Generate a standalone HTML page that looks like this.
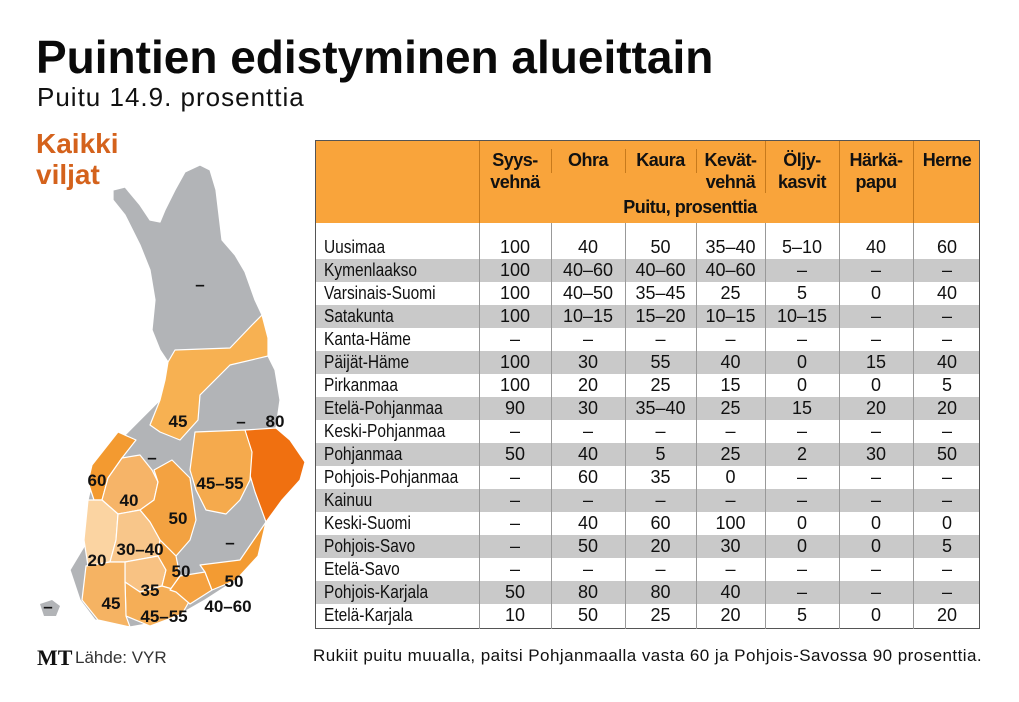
<!DOCTYPE html>
<html><head><meta charset="utf-8"><style>
body{margin:0;width:1019px;height:702px;background:#fff;position:relative;overflow:hidden;font-family:"Liberation Sans",sans-serif;color:#111}
.a{position:absolute;white-space:nowrap}
#t1{left:36px;top:30px;font:bold 46px "Liberation Sans",sans-serif;letter-spacing:0px;color:#0a0a0a}
#t2{left:37px;top:82px;font:26px "Liberation Sans",sans-serif;letter-spacing:1px}
#kv{left:36px;top:128px;font:bold 28px/31px "Liberation Sans",sans-serif;color:#d4621c}
#box{position:absolute;left:315px;top:140px;width:665px;height:489px;border:1px solid #555;box-sizing:border-box}
.hd{position:absolute;left:0;top:0;width:100%;height:82px;background:#f9a43b}
.row{position:absolute;left:0;width:100%;height:23px}
.g{background:#c9c9c9}
.c{position:absolute;text-align:center;font-size:18px;line-height:23px}
.n{position:absolute;left:8px;font-size:18px;line-height:23px;transform:scaleX(0.86);transform-origin:0 0;white-space:nowrap}
.h{position:absolute;text-align:center;font-weight:bold;font-size:18px;line-height:22px;letter-spacing:-0.5px}
.vl{position:absolute;width:1px;background:#999}
</style></head><body>
<div class="a" id="t1">Puintien edistyminen alueittain</div>
<div class="a" id="t2">Puitu 14.9. prosenttia</div>
<div class="a" id="kv">Kaikki<br>viljat</div>

<svg class="a" style="left:0;top:0" width="315" height="702">
<g stroke="#fff" stroke-width="1.2" stroke-linejoin="round">
<polygon fill="#b2b4b7" points="113,190 125,187 140,205 150,220 160,222 165,210 175,190 185,172 200,165 210,170 216,190 222,240 235,255 245,272 255,300 262,315 268,338 268,356 275,370 280,400 276,428 290,440 305,462 300,480 282,500 266,522 255,558 236,580 205,600 170,620 130,627 95,620 80,600 70,570 85,545 88,500 95,470 115,445 140,420 160,400 165,380 168,362 160,350 152,330 155,300 150,270 140,245 125,215 113,200"/>
<polygon fill="#f7b152" points="168,362 175,350 230,348 252,325 262,315 268,338 268,356 230,365 215,380 200,395 198,420 180,440 160,432 150,425 160,400 165,380"/>
<polygon fill="#f07010" points="245,430 276,428 290,440 305,462 300,480 282,500 266,522 255,492 246,462"/>
<polygon fill="#f39a30" points="92,465 118,432 136,440 122,458 108,478 102,500 94,500 88,482"/>
<polygon fill="#f6b468" points="102,500 108,478 122,458 140,455 152,470 158,482 154,500 140,510 118,514"/>
<polygon fill="#f3a241" points="154,470 172,460 190,478 196,520 190,540 176,556 160,540 150,522 140,510 154,500 158,482"/>
<polygon fill="#f5aa4d" points="195,432 245,430 252,452 250,480 240,500 226,514 206,510 196,490 190,470"/>
<polygon fill="#fbd4a2" points="88,500 102,500 118,514 116,540 110,562 88,566 84,540"/>
<polygon fill="#f8c68a" points="118,514 140,510 150,522 160,540 158,556 125,562 110,562 116,540"/>
<polygon fill="#f8c283" points="125,562 158,556 166,570 162,586 140,592 125,582"/>
<polygon fill="#f3a241" points="160,540 176,556 180,576 170,590 162,586 166,570 158,556"/>
<polygon fill="#f5ae57" points="125,582 140,592 162,586 176,590 190,600 182,614 150,626 126,616"/>
<polygon fill="#f5b363" points="86,566 110,562 125,562 125,582 126,616 130,627 98,620 82,600"/>
<polygon fill="#f5a13f" points="170,590 180,576 205,572 212,590 190,604 176,592"/>
<polygon fill="#f39b32" points="205,572 200,565 240,560 266,522 258,556 236,580 212,590"/>
</g>
<polygon fill="#b2b4b7" points="40,604 52,600 60,606 56,616 44,616"/>
<g font-family="Liberation Sans,sans-serif" font-weight="bold" font-size="17" fill="#111" text-anchor="middle">
<text x="200" y="290">–</text><text x="178" y="427">45</text><text x="241" y="427">–</text><text x="275" y="427">80</text>
<text x="152" y="463">–</text><text x="97" y="486">60</text><text x="129" y="506">40</text><text x="220" y="489">45–55</text>
<text x="178" y="524">50</text><text x="230" y="548">–</text><text x="97" y="566">20</text><text x="140" y="555">30–40</text>
<text x="181" y="577">50</text><text x="150" y="596">35</text><text x="234" y="587">50</text><text x="111" y="609">45</text>
<text x="164" y="622">45–55</text><text x="228" y="612">40–60</text><text x="48" y="612">–</text>
</g>
</svg>

<div class="a" style="left:37px;top:645px;font:bold 22px 'Liberation Serif',serif">MT</div>
<div class="a" style="left:75px;top:648px;font-size:17px;color:#333">Lähde: VYR</div>
<div class="a" style="left:313px;top:646px;font-size:17px;letter-spacing:0.45px">Rukiit puitu muualla, paitsi Pohjanmaalla vasta 60 ja Pohjois-Savossa 90 prosenttia.</div>

<div id="box">
<div class="hd"></div>
<div class="h" style="left:163px;width:72px;top:8px">Syys-<br>vehnä</div>
<div class="h" style="left:235px;width:74px;top:8px">Ohra</div>
<div class="h" style="left:309px;width:71px;top:8px">Kaura</div>
<div class="h" style="left:380px;width:69px;top:8px">Kevät-<br>vehnä</div>
<div class="h" style="left:449px;width:74px;top:8px">Öljy-<br>kasvit</div>
<div class="h" style="left:523px;width:74px;top:8px">Härkä-<br>papu</div>
<div class="h" style="left:597px;width:68px;top:8px">Herne</div>
<div class="h" style="left:235px;width:278px;top:55px">Puitu, prosenttia</div>
<div id="rows"></div>
</div>
<script>
var d=[["Uusimaa","100","40","50","35–40","5–10","40","60"],
["Kymenlaakso","100","40–60","40–60","40–60","–","–","–"],
["Varsinais-Suomi","100","40–50","35–45","25","5","0","40"],
["Satakunta","100","10–15","15–20","10–15","10–15","–","–"],
["Kanta-Häme","–","–","–","–","–","–","–"],
["Päijät-Häme","100","30","55","40","0","15","40"],
["Pirkanmaa","100","20","25","15","0","0","5"],
["Etelä-Pohjanmaa","90","30","35–40","25","15","20","20"],
["Keski-Pohjanmaa","–","–","–","–","–","–","–"],
["Pohjanmaa","50","40","5","25","2","30","50"],
["Pohjois-Pohjanmaa","–","60","35","0","–","–","–"],
["Kainuu","–","–","–","–","–","–","–"],
["Keski-Suomi","–","40","60","100","0","0","0"],
["Pohjois-Savo","–","50","20","30","0","0","5"],
["Etelä-Savo","–","–","–","–","–","–","–"],
["Pohjois-Karjala","50","80","80","40","–","–","–"],
["Etelä-Karjala","10","50","25","20","5","0","20"]];
var L=[163,235,309,380,449,523,597,665],h="";
for(var i=0;i<d.length;i++){var t=95+23*i;h+='<div class="row'+(i%2?' g':'')+'" style="top:'+t+'px"></div><div class="n" style="top:'+t+'px">'+d[i][0]+'</div>';
for(var j=1;j<8;j++)h+='<div class="c" style="top:'+t+'px;left:'+L[j-1]+'px;width:'+(L[j]-L[j-1])+'px">'+d[i][j]+'</div>';}
for(var j=0;j<7;j++)h+='<div class="vl" style="left:'+L[j]+'px;top:82px;height:406px"></div>';
h+='<div class="vl" style="background:#c77a1c;left:163px;top:0;height:82px"></div>';
var hv=[235,309,380,449,523,597];for(var j=0;j<hv.length;j++)h+='<div class="vl" style="background:#c77a1c;left:'+hv[j]+'px;top:8px;height:24px"></div>';
h+='<div class="vl" style="background:#c77a1c;left:449px;top:0;height:52px"></div><div class="vl" style="background:#c77a1c;left:523px;top:0;height:82px"></div><div class="vl" style="background:#c77a1c;left:597px;top:0;height:82px"></div>';
document.getElementById('rows').innerHTML=h;
</script>
</body></html>
